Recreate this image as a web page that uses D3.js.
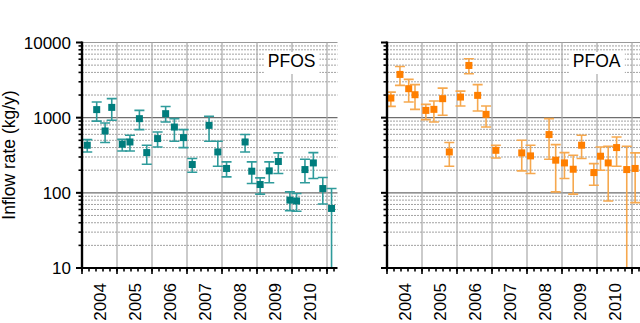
<!DOCTYPE html>
<html>
<head>
<meta charset="utf-8">
<script src="https://cdn.jsdelivr.net/npm/d3@7"></script>
<style>
  body { margin: 0; background: #fff; }
  text { font-family: "Liberation Sans", Arial, sans-serif; }
</style>
</head>
<body>
<script>
// year labels on the time axis
const years = [2004, 2005, 2006, 2007, 2008, 2009, 2010];
const yTicks = [10, 100, 1000, 10000];

// PFOS inflow (kg/y) with lower / upper error limits
const pfosTime = [2004.15, 2004.42, 2004.66, 2004.85, 2005.15, 2005.37, 2005.64, 2005.85, 2006.16, 2006.39, 2006.64, 2006.9, 2007.15, 2007.63, 2007.88, 2008.13, 2008.66, 2008.85, 2009.09, 2009.35, 2009.61, 2009.94, 2010.13, 2010.37, 2010.61, 2010.88, 2011.13];
const pfosValue = [430, 1280, 665, 1370, 443, 475, 970, 343, 527, 1130, 750, 543, 238, 790, 350, 211, 475, 194, 129, 196, 261, 80, 78, 204, 250, 114, 62];
const pfosLow = [350, 900, 467, 922, 360, 360, 693, 240, 408, 875, 485, 400, 188, 485, 226, 163, 350, 133, 96, 136, 181, 58, 57, 136, 155, 71, 5];
const pfosHigh = [510, 1615, 850, 1790, 515, 583, 1250, 430, 645, 1410, 970, 693, 286, 1043, 485, 258, 596, 258, 158, 258, 340, 103, 98, 280, 343, 160, 114];

// PFOA inflow (kg/y)
const pfoaTime = [2004.11, 2004.37, 2004.62, 2004.8, 2005.11, 2005.34, 2005.59, 2005.78, 2006.1, 2006.34, 2006.59, 2006.83, 2007.11, 2007.85, 2008.1, 2008.63, 2008.82, 2009.07, 2009.32, 2009.56, 2009.91, 2010.1, 2010.32, 2010.56, 2010.85, 2011.09];
const pfoaValue = [1824, 3760, 2430, 2020, 1250, 1290, 1790, 350, 1880, 4950, 1980, 1107, 368, 340, 310, 596, 272, 250, 206, 430, 186, 307, 250, 400, 204, 211];
const pfoaLow = [1413, 2685, 1615, 1291, 942, 875, 1075, 226, 1429, 3845, 1225, 751, 291, 196, 181, 280, 103, 155, 96, 286, 126, 200, 78, 226, 5, 74];
const pfoaHigh = [2190, 4800, 3228, 2750, 1503, 1663, 2472, 467, 2258, 6080, 2750, 1429, 430, 500, 430, 970, 438, 343, 316, 583, 245, 408, 417, 553, 417, 340];

const W = 640, H = 323;
const plotTop = 42.5, plotBottom = 268;

const svg = d3.select("body").append("svg")
    .attr("width", W)
    .attr("height", H);

const y = d3.scaleLog().domain([10, 10000]).range([plotBottom, plotTop]);

function rows(t, v, lo, hi) {
    return t.map((d, i) => ({ t: d, v: v[i], lo: lo[i], hi: hi[i] }));
}

function drawPanel(id, left, right, data, label, markColor, barColor, showLabels) {
    const x = d3.scaleLinear().domain([2004, 2011.3]).range([left, right]);
    const g = svg.append("g").attr("class", "panel-" + id);

    g.append("clipPath").attr("id", "clip-" + id)
        .append("rect")
        .attr("x", left).attr("y", plotTop - 8)
        .attr("width", right - left + 10).attr("height", plotBottom - plotTop + 8);

    // horizontal grid
    const minor = [];
    [10, 100, 1000].forEach(dec => { for (let k = 2; k <= 9; k++) minor.push(k * dec); });
    g.selectAll(".hminor").data(minor).enter().append("line")
        .attr("x1", left).attr("x2", right)
        .attr("y1", d => y(d)).attr("y2", d => y(d))
        .style("stroke", "#8a8a8a")
        .style("stroke-width", "0.8px")
        .style("stroke-dasharray", "2,1");
    g.selectAll(".hmajor").data([100, 1000, 10000]).enter().append("line")
        .attr("x1", left).attr("x2", right)
        .attr("y1", d => y(d)).attr("y2", d => y(d))
        .style("stroke", d => d === 10000 ? "#9a9a9a" : "#6e6e6e")
        .style("stroke-width", "1.2px");

    // vertical grid at each year
    g.selectAll(".vgrid").data(d3.range(2005, 2012)).enter().append("line")
        .attr("x1", d => x(d)).attr("x2", d => x(d))
        .attr("y1", plotTop).attr("y2", plotBottom)
        .style("stroke", "#a8a8a8")
        .style("stroke-width", "1.2px");

    // label box
    const lx = x(2011.3) - 22;
    const txt = g.append("text")
        .attr("x", lx).attr("y", 67)
        .attr("text-anchor", "end")
        .style("font-size", "17.5px")
        .text(label);
    const bb = txt.node().getBBox();
    g.insert("rect", "text")
        .attr("x", bb.x - 4).attr("y", 52)
        .attr("width", bb.width + 8).attr("height", 22)
        .style("fill", "white");

    // error bars and squares
    const pts = g.append("g").attr("clip-path", "url(#clip-" + id + ")");
    const bar = pts.selectAll(".err").data(data).enter().append("g");
    bar.append("line")
        .attr("x1", d => x(d.t)).attr("x2", d => x(d.t))
        .attr("y1", d => y(d.hi)).attr("y2", d => y(Math.max(d.lo, 1)))
        .style("stroke", barColor).style("stroke-width", "1.6px");
    bar.append("line")
        .attr("x1", d => x(d.t) - 5).attr("x2", d => x(d.t) + 5)
        .attr("y1", d => y(d.hi)).attr("y2", d => y(d.hi))
        .style("stroke", barColor).style("stroke-width", "1.6px");
    bar.filter(d => d.lo >= 10).append("line")
        .attr("x1", d => x(d.t) - 5).attr("x2", d => x(d.t) + 5)
        .attr("y1", d => y(d.lo)).attr("y2", d => y(d.lo))
        .style("stroke", barColor).style("stroke-width", "1.6px");
    pts.selectAll(".sq").data(data).enter().append("rect")
        .attr("x", d => x(d.t) - 3.5).attr("y", d => y(d.v) - 3.5)
        .attr("width", 7).attr("height", 7)
        .style("fill", markColor);

    // x axis with year ticks and minor ticks
    const minorX = [];
    for (let yr = 2004; yr < 2011.3; yr += 0.2) minorX.push(yr);
    g.selectAll(".xminor").data(minorX).enter().append("line")
        .attr("x1", d => x(d)).attr("x2", d => x(d))
        .attr("y1", plotBottom).attr("y2", plotBottom + 3.5)
        .style("stroke", "black").style("stroke-width", "1.6px");
    g.selectAll(".xmajor").data(d3.range(2004, 2012)).enter().append("line")
        .attr("x1", d => x(d)).attr("x2", d => x(d))
        .attr("y1", plotBottom).attr("y2", plotBottom + 6)
        .style("stroke", "black").style("stroke-width", "1.6px");
    g.append("line")
        .attr("x1", left - 6).attr("x2", right)
        .attr("y1", plotBottom).attr("y2", plotBottom)
        .style("stroke", "black").style("stroke-width", "2.2px");

    g.selectAll(".year").data(years).enter().append("text")
        .attr("transform", d => "translate(" + x(d + 0.5) + "," + 283 + ") rotate(-90)")
        .attr("dy", "0.36em")
        .attr("text-anchor", "end")
        .style("font-size", "17px")
        .text(d => d);

    // y axis
    g.selectAll(".yminor").data(minor).enter().append("line")
        .attr("x1", left - 3.5).attr("x2", left)
        .attr("y1", d => y(d)).attr("y2", d => y(d))
        .style("stroke", "black").style("stroke-width", "1.6px");
    g.selectAll(".ymajor").data(yTicks).enter().append("line")
        .attr("x1", left - 6).attr("x2", left)
        .attr("y1", d => y(d)).attr("y2", d => y(d))
        .style("stroke", "black").style("stroke-width", "2px");
    g.append("line")
        .attr("x1", left).attr("x2", left)
        .attr("y1", plotTop - 1).attr("y2", plotBottom + 1)
        .style("stroke", "black").style("stroke-width", "2.4px");

    if (showLabels) {
        g.selectAll(".ylab").data(yTicks).enter().append("text")
            .attr("x", left - 11).attr("y", d => y(d))
            .attr("dy", "0.36em")
            .attr("text-anchor", "end")
            .style("font-size", "17px")
            .text(d => d);
    }
}

drawPanel("pfos", 82, 337.5, rows(pfosTime, pfosValue, pfosLow, pfosHigh), "PFOS", "#007d7d", "#2f9b9b", true);
drawPanel("pfoa", 387, 642.5, rows(pfoaTime, pfoaValue, pfoaLow, pfoaHigh), "PFOA", "#ff7f00", "#f6a84e", false);

svg.append("text")
    .attr("transform", "translate(15,155) rotate(-90)")
    .attr("text-anchor", "middle")
    .style("font-size", "17.5px")
    .text("Inflow rate (kg/y)");
</script>
</body>
</html>
